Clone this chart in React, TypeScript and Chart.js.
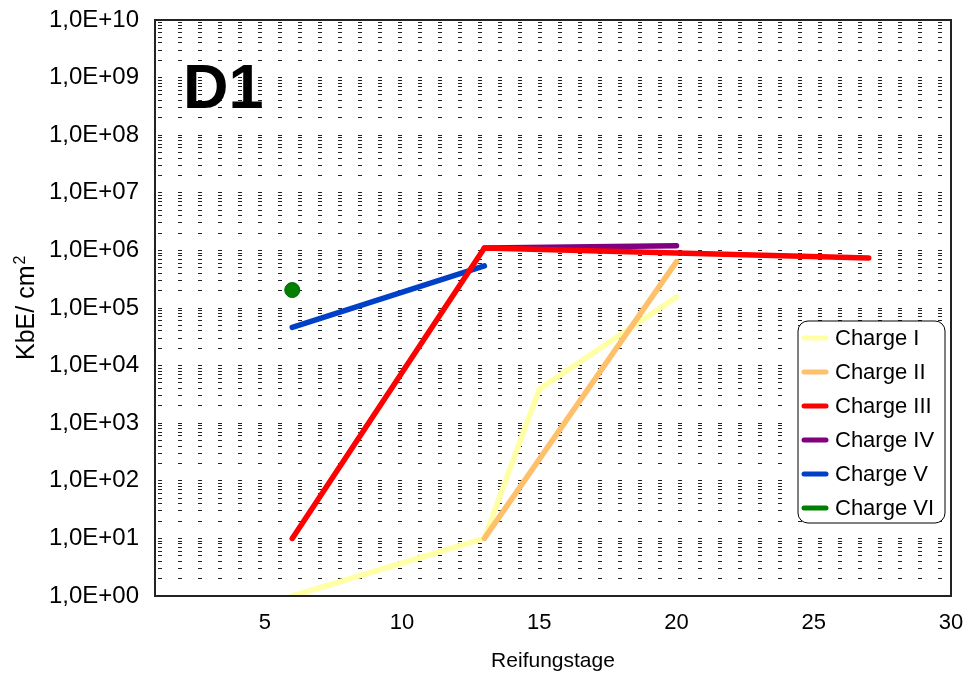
import React, { useEffect, useRef } from "react";
import { Chart, registerables } from "chart.js";

Chart.register(...registerables);

const seriesNames = ["Charge I", "Charge II", "Charge III", "Charge IV", "Charge V", "Charge VI"];
const seriesColors = ["#FFFFA6", "#FFC06C", "#FF0000", "#800080", "#0040C8", "#008000"];

const chargeIDays = [6, 13, 15, 20];
const chargeIValues = [1, 10, 3900, 155000];
const chargeIIDays = [13, 20];
const chargeIIValues = [10, 640000];
const chargeIIIDays = [6, 13, 20, 27];
const chargeIIIValues = [10, 1100000, 900000, 740000];
const chargeIVDays = [13, 20];
const chargeIVValues = [1100000, 1200000];
const chargeVDays = [6, 13];
const chargeVValues = [46000, 540000];
const chargeVIDays = [6];
const chargeVIValues = [205000];

const xTickValues = [5, 10, 15, 20, 25, 30];
const yMin = 1;
const yMax = 1e10;
const yTitle = "KbE/ cm";
const yTitleSup = "2";
const xTitle = "Reifungstage";
const panelLabel = "D1";

const FONT = "'Liberation Sans', Arial, sans-serif";

function pts(xs: number[], ys: number[]) {
  return xs.map((x, i) => ({ x, y: ys[i] }));
}

function fmtExp(v: number) {
  const e = Math.round(Math.log10(v));
  return "1,0E+" + (e < 10 ? "0" + e : String(e));
}

const framePlugin = {
  id: "frame",
  afterDatasetsDraw(chart: any) {
    const { ctx, chartArea } = chart;
    ctx.save();
    ctx.strokeStyle = "#222";
    ctx.lineWidth = 2;
    ctx.strokeRect(chartArea.left, chartArea.top, chartArea.right - chartArea.left, chartArea.bottom - chartArea.top);
    ctx.restore();
  },
  afterDraw(chart: any) {
    const { ctx, chartArea } = chart;
    ctx.save();
    // panel label
    ctx.fillStyle = "#000";
    ctx.font = "bold 63px " + FONT;
    ctx.textBaseline = "alphabetic";
    ctx.textAlign = "left";
    ctx.fillText(panelLabel, chartArea.left + 28, chartArea.top + 88);

    // y axis title with superscript
    ctx.save();
    ctx.translate(34, 360);
    ctx.rotate(-Math.PI / 2);
    ctx.font = "25px " + FONT;
    ctx.fillText(yTitle, 0, 0);
    const w = ctx.measureText(yTitle).width;
    ctx.font = "16px " + FONT;
    ctx.fillText(yTitleSup, w + 1, -9);
    ctx.restore();

    // legend box
    const bx = chartArea.right - 153;
    const by = chartArea.top + 301;
    const bw = 147;
    const bh = 202;
    const r = 10;
    ctx.beginPath();
    ctx.moveTo(bx + r, by);
    ctx.lineTo(bx + bw - r, by);
    ctx.arcTo(bx + bw, by, bx + bw, by + r, r);
    ctx.lineTo(bx + bw, by + bh - r);
    ctx.arcTo(bx + bw, by + bh, bx + bw - r, by + bh, r);
    ctx.lineTo(bx + r, by + bh);
    ctx.arcTo(bx, by + bh, bx, by + bh - r, r);
    ctx.lineTo(bx, by + r);
    ctx.arcTo(bx, by, bx + r, by, r);
    ctx.closePath();
    ctx.fillStyle = "#fff";
    ctx.fill();
    ctx.strokeStyle = "#000";
    ctx.lineWidth = 1;
    ctx.stroke();

    ctx.font = "22px " + FONT;
    ctx.textBaseline = "middle";
    seriesNames.forEach((name, i) => {
      const cy = by + 17 + i * 34;
      ctx.strokeStyle = seriesColors[i];
      ctx.lineWidth = 5;
      ctx.lineCap = "round";
      ctx.beginPath();
      ctx.moveTo(bx + 6, cy);
      ctx.lineTo(bx + 28, cy);
      ctx.stroke();
      ctx.fillStyle = "#000";
      ctx.fillText(name, bx + 37, cy + 1);
    });
    ctx.restore();
  },
};

export default function App() {
  const ref = useRef<HTMLCanvasElement>(null);

  useEffect(() => {
    document.body.style.margin = "0";
    const lineDs = (i: number, xs: number[], ys: number[], order: number) => ({
      label: seriesNames[i],
      data: pts(xs, ys),
      borderColor: seriesColors[i],
      backgroundColor: seriesColors[i],
      borderWidth: 5.5,
      pointRadius: 0,
      borderJoinStyle: "round",
      borderCapStyle: "round",
      showLine: true,
      order,
    });
    const chart = new Chart(ref.current!, {
      type: "scatter",
      data: {
        datasets: [
          lineDs(0, chargeIDays, chargeIValues, 3),
          lineDs(1, chargeIIDays, chargeIIValues, 2),
          lineDs(2, chargeIIIDays, chargeIIIValues, 1),
          lineDs(3, chargeIVDays, chargeIVValues, 4),
          lineDs(4, chargeVDays, chargeVValues, 5),
          {
            label: seriesNames[5],
            data: pts(chargeVIDays, chargeVIValues),
            borderColor: "#006400",
            backgroundColor: seriesColors[5],
            pointRadius: 7.5,
            pointBorderWidth: 1,
            showLine: false,
            order: 0,
          },
        ] as any,
      },
      options: {
        animation: false,
        responsive: false,
        maintainAspectRatio: false,
        layout: { padding: { left: 0, top: 20, right: 16, bottom: 0 } },
        plugins: { legend: { display: false }, tooltip: { enabled: false } },
        scales: {
          x: {
            type: "linear",
            min: 1,
            max: 30,
            afterBuildTicks: (s: any) => {
              s.ticks = xTickValues.map((v) => ({ value: v }));
            },
            afterFit: (s: any) => {
              s.height = 79;
              s.paddingLeft = 0;
              s.paddingRight = 0;
            },
            grid: { display: false, drawTicks: false },
            border: { display: true, color: "#222", width: 2 },
            ticks: { color: "#000", font: { family: FONT, size: 22 }, padding: 14, autoSkip: false, maxRotation: 0 },
            title: { display: true, text: xTitle, color: "#000", font: { family: FONT, size: 21 }, padding: { top: 0, bottom: 1 } },
          },
          y: {
            type: "logarithmic",
            min: yMin,
            max: yMax,
            afterBuildTicks: (s: any) => {
              const t: any[] = [];
              for (let e = 0; e < 10; e++) {
                for (let m = 1; m <= 9; m++) t.push({ value: m * Math.pow(10, e) });
              }
              t.push({ value: yMax });
              s.ticks = t;
            },
            afterFit: (s: any) => {
              s.width = 155;
              s.paddingTop = 0;
              s.paddingBottom = 0;
            },
            grid: { display: true, color: "#222", lineWidth: 1, drawTicks: false },
            border: { display: true, color: "#222", width: 2, dash: [4, 16], dashOffset: -2 },
            ticks: {
              color: "#000",
              font: { family: FONT, size: 24 },
              padding: 16,
              autoSkip: false,
              callback: (v: any) => {
                const l = Math.log10(Number(v));
                return Math.abs(l - Math.round(l)) < 1e-9 ? fmtExp(Number(v)) : "";
              },
            },
            title: { display: false },
          },
        },
      },
      plugins: [framePlugin],
    } as any);
    return () => chart.destroy();
  }, []);

  return (
    <div style={{ position: "absolute", left: 0, top: 0, width: 967, height: 675, background: "#fff" }}>
      <canvas ref={ref} width={967} height={675} style={{ width: 967, height: 675, display: "block" }} />
    </div>
  );
}
